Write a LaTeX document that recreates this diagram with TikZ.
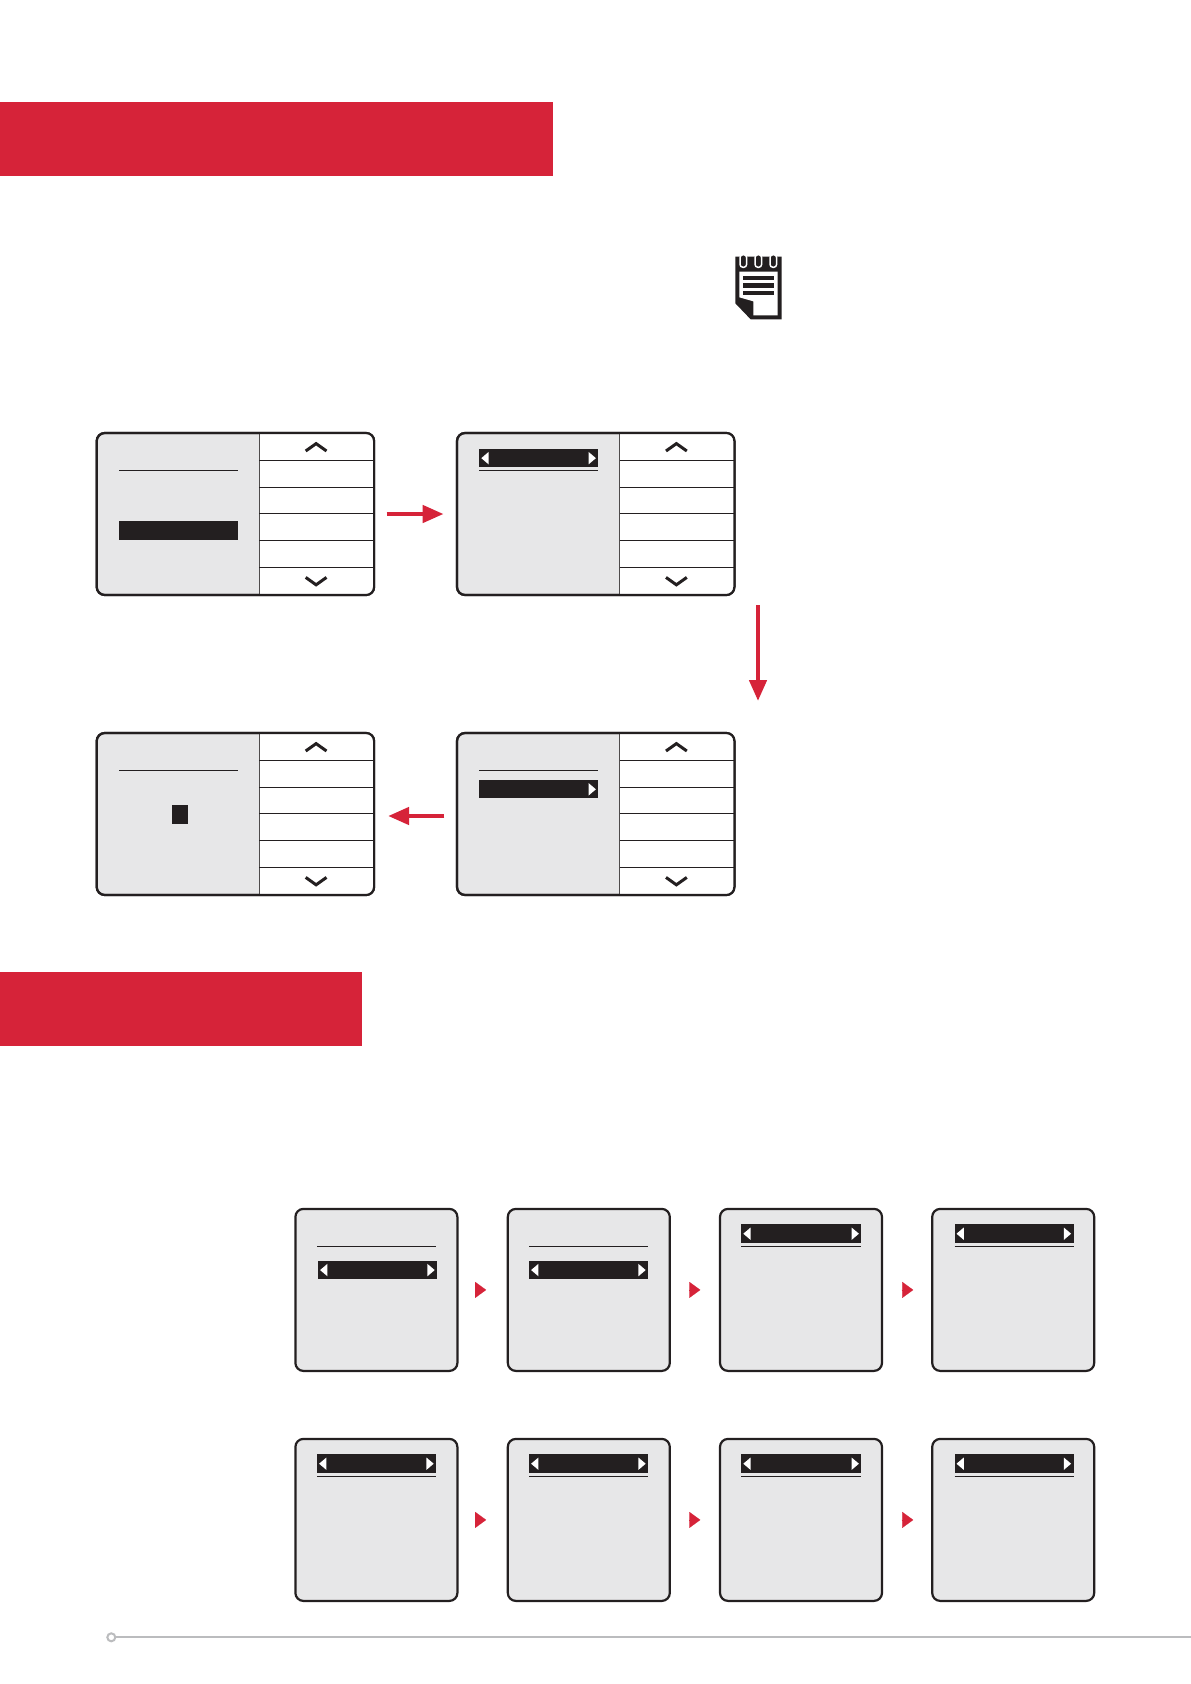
\documentclass[tikz,border=0pt]{standalone}
\usetikzlibrary{arrows.meta}
\definecolor{bannerred}{HTML}{D62339}
\definecolor{screengray}{HTML}{E7E7E8}
\definecolor{inkblack}{HTML}{231F20}
\definecolor{footgray}{HTML}{BBBCBE}
\tikzset{
  bannerbox/.style={fill=bannerred,draw=none},
  screenbox/.style={draw=inkblack,fill=screengray,line width=2.2pt,rounded corners=8pt,inner sep=0pt,outer sep=0pt,minimum height=162pt},
  menubox/.style={screenbox,minimum width=277.4pt},
  smallbox/.style={screenbox,minimum width=162pt},
  menurule/.style={draw=inkblack,line width=1pt},
  chevron/.style={draw=inkblack,line width=3pt,miter limit=10},
  redarrow/.style={draw=bannerred,line width=4.5pt,-{Triangle[length=21pt,width=17pt]}},
  smalltip/.style={draw=bannerred,fill=bannerred,line width=0.1pt,-{Triangle[length=11pt,width=16pt]}},
}
% buttons down the right side of a wide screen
\newcommand{\menupanel}[1]{
  \begin{scope}[shift={(#1.north west)}]
    \fill[white] (162.6,0) [rounded corners=8pt] -- (277.4,0) -- (277.4,162) [sharp corners] -- (162.6,162) -- cycle;
    \draw[inkblack!80,line width=1pt] (162.6,0) -- (162.6,162);
    \foreach \rowy in {27.6,54.6,80.6,107.6,134.6}
      \draw[menurule] (162.6,\rowy) -- (277,\rowy);
    \draw[chevron] (209,18) -- (219.4,10.6) -- (229.8,18);
    \draw[chevron] (209,144.4) -- (219.4,151.8) -- (229.8,144.4);
  \end{scope}
  \draw[inkblack,line width=2.2pt,rounded corners=8pt] (#1.north west) rectangle (#1.south east);
}
\newcommand{\tickleft}[2]{\fill[white] ({#1+2},{#2}) -- ({#1+9.3},{#2-6.2}) -- ({#1+9.3},{#2+6.2}) -- cycle;}
\newcommand{\tickright}[2]{\fill[white] ({#1-2.4},{#2}) -- ({#1-9.7},{#2-6.2}) -- ({#1-9.7},{#2+6.2}) -- cycle;}
% rule only, or rule under / over a black bar with both ticks
\newcommand{\headrule}[3]{\draw[menurule] (#1,#3) -- (#2,#3);}
\newcommand{\tickbar}[4]{
  \fill[inkblack] (#1,#3) rectangle (#2,#4);
  \tickleft{#1}{(#3+#4)/2}
  \tickright{#2}{(#3+#4)/2}
}
\begin{document}
\begin{tikzpicture}[x=1pt,y=-1pt]
\useasboundingbox (0,0) rectangle (1191,1684);
\fill[white] (0,0) rectangle (1191,1684);

% headings
\node[bannerbox,anchor=north west,inner sep=0pt,minimum width=553pt,minimum height=74pt] (bannerone) at (0,102) {};
\node[bannerbox,anchor=north west,inner sep=0pt,minimum width=362pt,minimum height=74pt] (bannertwo) at (0,972) {};

% note icon
\begin{scope}[shift={(700,240)},scale=0.3333]
  \fill[inkblack] (106,50) -- (245,50) -- (245,238) -- (152,238) -- (106,190) -- cycle;
  \fill[white] (118,95) -- (233,95) -- (233,226) -- (160,226) -- (160,184) -- (118,172) -- cycle;
  \foreach \ringx in {120,165,210}
    \draw[white,fill=inkblack,line width=1.5pt,rounded corners=3pt] (\ringx,44) rectangle (\ringx+20,82);
  \foreach \liney in {107,130,153}
    \fill[inkblack] (130,\liney) rectangle (222,\liney+13);
\end{scope}

% wide screens
\node[menubox] (menuA) at (235.4,514) {};
\node[menubox] (menuB) at (595.7,514) {};
\node[menubox] (menuC) at (235.4,814) {};
\node[menubox] (menuD) at (595.7,814) {};
\foreach \m in {menuA,menuB,menuC,menuD}{
  \menupanel{\m}
}

\begin{scope}[shift={(menuA.north west)}]
  \headrule{22.3}{141.3}{37.6}
  \fill[inkblack] (22.3,88.3) rectangle (141.3,107.3);
\end{scope}
\begin{scope}[shift={(menuB.north west)}]
  \headrule{22.3}{141.3}{37.6}
  \tickbar{22.3}{141.3}{16.3}{34}
\end{scope}
\begin{scope}[shift={(menuC.north west)}]
  \headrule{22.3}{141.3}{37.6}
  \fill[inkblack] (75.3,72.3) rectangle (91.3,91.3);
\end{scope}
\begin{scope}[shift={(menuD.north west)}]
  \headrule{22.3}{141.3}{37.6}
  \fill[inkblack] (22.3,47.3) rectangle (141.3,65.3);
  \tickright{141.3}{56.3}
\end{scope}

\coordinate (dropstart) at (758,605);
\coordinate (dropend) at (758,701);
\draw[redarrow,shorten <=12.5pt,shorten >=13.4pt] (menuA.east) -- (menuB.west);
\draw[redarrow] (dropstart) -- (dropend);
\draw[redarrow,shorten <=12.7pt,shorten >=14pt] ([yshift=-2pt]menuD.west) -- ([yshift=-2pt]menuC.east);

% small screens
\node[smallbox] (stepA) at (376.4,1289.9) {};
\node[smallbox] (stepB) at (588.8,1289.9) {};
\node[smallbox] (stepC) at (801,1289.9) {};
\node[smallbox] (stepD) at (1013.2,1289.9) {};
\node[smallbox] (stepE) at (376.4,1519.9) {};
\node[smallbox] (stepF) at (588.8,1519.9) {};
\node[smallbox] (stepG) at (801,1519.9) {};
\node[smallbox] (stepH) at (1013.2,1519.9) {};

\begin{scope}[shift={(stepA.north west)}]
  \headrule{21.7}{140.4}{37.6}
  \tickbar{22.7}{141.7}{52.3}{70}
\end{scope}
\begin{scope}[shift={(stepB.north west)}]
  \headrule{21.3}{140.3}{37.6}
  \tickbar{21.3}{140.3}{52.3}{70}
\end{scope}
\foreach \s/\xa/\xb in {stepC/21.3/141.3,stepD/22.3/141.3,stepE/21.7/140.7,stepF/21.3/140.3,stepG/21.3/141.3,stepH/22.3/141.3}{
  \begin{scope}[shift={(\s.north west)}]
    \headrule{\xa}{\xb}{37.6}
    \tickbar{\xa}{\xb}{15.3}{34.3}
  \end{scope}
}

\draw[smalltip,shorten <=17.6pt,shorten >=21.7pt] (stepA.east) -- (stepB.west);
\draw[smalltip,shorten <=19.3pt,shorten >=19.7pt] (stepB.east) -- (stepC.west);
\draw[smalltip,shorten <=19.6pt,shorten >=19pt] (stepC.east) -- (stepD.west);
\draw[smalltip,shorten <=17.6pt,shorten >=21.7pt] (stepE.east) -- (stepF.west);
\draw[smalltip,shorten <=19.3pt,shorten >=19.7pt] (stepF.east) -- (stepG.west);
\draw[smalltip,shorten <=19.6pt,shorten >=19pt] (stepG.east) -- (stepH.west);

% footer
\node[circle,draw=footgray,fill=white,line width=2pt,inner sep=0pt,minimum size=8pt] (footdot) at (111.3,1637.3) {};
\coordinate (footend) at (1191,1637.3);
\draw[footgray,line width=1.8pt] (footdot) -- (footend);
\end{tikzpicture}
\end{document}
